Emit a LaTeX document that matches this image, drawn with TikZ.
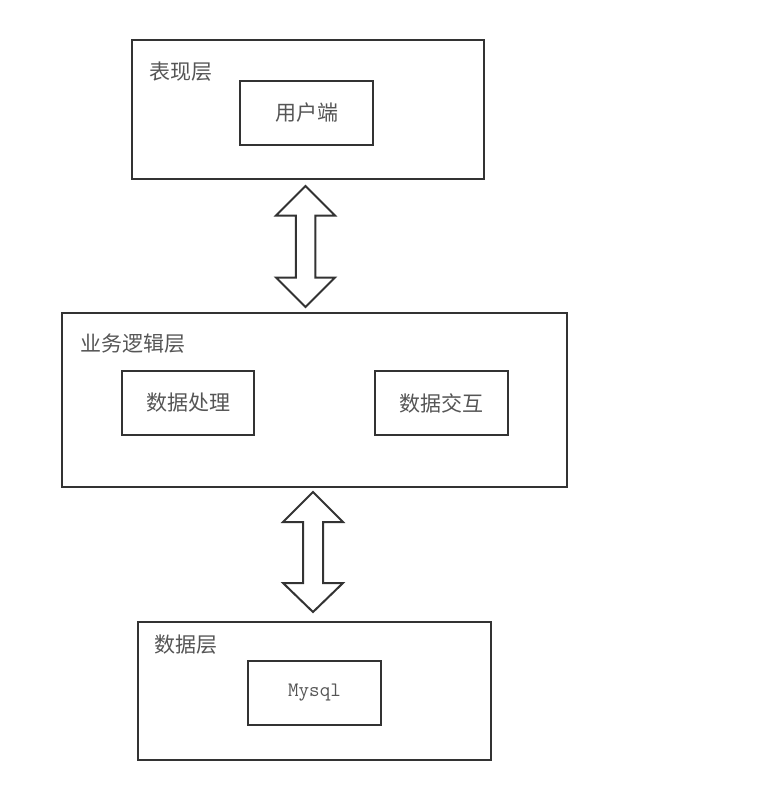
\documentclass[tikz,border=0pt]{standalone}
\usepackage{fontspec}
\newfontfamily\cjk{Noto Sans CJK SC}
\definecolor{linec}{HTML}{333333}
\definecolor{textc}{HTML}{555555}
\tikzset{
  layerbox/.style={draw=linec, line width=2pt, anchor=north west, inner sep=0pt},
  innerbox/.style={draw=linec, line width=2pt, anchor=north west, inner sep=0pt, minimum width=133pt, minimum height=64pt, text=textc, font=\cjk\fontsize{21}{21}\selectfont},
  layerlabel/.style={anchor=west, text=textc, inner sep=0pt, font=\cjk\fontsize{21}{21}\selectfont},
  dblarrow/.style={draw=linec, line width=2pt, fill=white, line join=miter}
}
\begin{document}
\begin{tikzpicture}[x=1pt,y=-1pt]
\useasboundingbox (0,0) rectangle (758,804);
% top layer
\node[layerbox, minimum width=352pt, minimum height=139pt] (top) at (131,39) {};
\node[layerlabel] (toplbl) at (149,72) {表现层};
\node[innerbox] (client) at (239,80) {用户端};
% middle layer
\node[layerbox, minimum width=505pt, minimum height=174pt] (mid) at (61,312) {};
\node[layerlabel] (midlbl) at (80,344) {业务逻辑层};
\node[innerbox, minimum width=132pt] (proc) at (121,370) {数据处理};
\node[innerbox] (inter) at (374,370) {数据交互};
% bottom layer
\node[layerbox, minimum width=353pt, minimum height=138pt] (bot) at (137,621) {};
\node[layerlabel] (botlbl) at (154,645) {数据层};
\node[innerbox, font=\ttfamily\fontsize{20.5}{20.5}\selectfont] (mysql) at (247,660) {Mysql};
% arrows
\coordinate (a1) at (305.5,186);
\coordinate (a2) at (313,492);
\draw[dblarrow] (a1) -- ++(29.5,29.5) -- ++(-19.75,0) -- ++(0,62) -- ++(19.75,0) -- ++(-29.5,29.5)
  -- ++(-29.5,-29.5) -- ++(19.75,0) -- ++(0,-62) -- ++(-19.75,0) -- cycle;
\draw[dblarrow] (a2) -- ++(30,30) -- ++(-20,0) -- ++(0,61) -- ++(20,0) -- ++(-30,29)
  -- ++(-30,-29) -- ++(20,0) -- ++(0,-61) -- ++(-20,0) -- cycle;
\end{tikzpicture}
\end{document}
